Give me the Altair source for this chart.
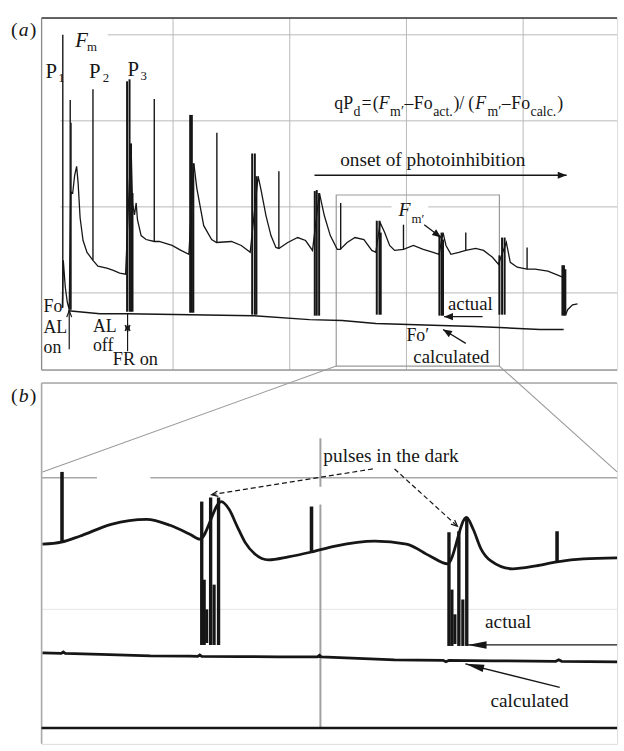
import math
import altair as alt
import pandas as pd

SERIF = "Liberation Serif"
INK = "#161616"
GRID = "#b8b8b8"

# ---------------- panel (a): digitised chlorophyll-fluorescence trace ----------------
# time (s, arbitrary origin) and fluorescence (relative units)
A_TRACE_T = [21, 22, 24, 26, 28, 29.5, 31.5, 33.5, 35.5, 37, 39, 42, 46, 52, 57, 66, 72, 79, 85,
             90.5, 92, 94, 95.7, 97, 100.7, 105.7, 114, 119, 132, 141, 149,
             154, 157, 164, 172, 177, 192, 202, 211,
             219, 222, 227, 232, 237, 240, 249, 259, 267, 274,
             281, 286, 292, 299, 302, 309, 317, 326, 334, 338,
             342.5, 347, 352, 357, 366, 376, 386, 396, 402,
             406, 409, 414, 422, 429, 439, 447, 456, 462,
             470, 474, 481, 491, 499, 512, 522, 527,
             530, 532, 537, 542]
A_TRACE_F = [63, 111, 84, 69, 61, 180, 179, 197, 206, 189, 154, 131, 119, 111, 105, 103, 101, 98, 97,
             229, 169, 157, 169, 152, 136, 132, 130, 130, 126, 121, 117,
             209, 184, 146, 132, 129, 130, 126, 119,
             196, 182, 156, 136, 124, 123, 129, 134, 131, 121,
             179, 156, 136, 122, 122, 129, 134, 132, 121, 119,
             149, 139, 126, 121, 122, 126, 122, 119, 117,
             139, 126, 117, 119, 121, 123, 121, 114, 107,
             129, 109, 104, 102, 102, 100, 96, 94,
             56, 61, 66, 67]

# saturating pulses in the light (single spikes)
A_SPIKE_T = [21.5, 29, 29.8, 52, 114, 177.3, 240, 302.5, 366, 429, 491]
A_SPIKE_BASE = [63, 61, 61, 111, 130, 129, 123, 122, 122, 121, 102]
A_SPIKE_TOP = [339, 273, 250, 284, 274, 240, 201, 169, 147, 139, 124]

# pulses in the dark (bursts)
A_BURST_T = [86.5, 89, 90.5, 92, 150.3, 152, 153.5, 213, 215.7, 217.3, 276.3, 278.3, 280.7,
             339, 341.7, 343, 402.3, 404.5, 406, 463, 465.7, 468.3, 526.7, 528.3, 529.7]
A_BURST_LOW = [59, 59, 59, 59, 58, 58, 58, 56, 56, 56, 55, 55, 55,
               56, 56, 56, 55, 55, 55, 56, 56, 56, 55, 55, 55]
A_BURST_TOP = [292, 294, 229, 179, 258, 258, 209, 219, 219, 196, 181, 182, 179,
               151, 151, 139, 136, 139, 132, 116, 134, 134, 106, 106, 102]

# calculated Fo' baseline
A_FO_T = [27, 59, 86, 151, 214, 271, 304, 338, 371, 404, 438, 463, 504, 528]
A_FO_F = [60, 57, 57, 56, 55, 51, 50, 47, 46, 45, 44, 43, 41, 41]

A_HGRID_F = [339, 252, 165, 165, 78]
A_HGRID_T0 = [67, 19, 19, 391, 19]
A_HGRID_T1 = [582, 582, 354, 582, 582]
A_VGRID_T = [133, 251, 369, 487]

A_BOX = dict(t0=298, t1=463, f0=4, f1=177)

# texts (a): text, x, y(baseline), size
A_TEXT = [("(", -31, 338, 20), (")", -12, 338, 20),
          ("P", 4, 295, 21), ("1", 17, 291, 13),
          ("P", 48, 295, 21), ("2", 62, 291, 13),
          ("P", 87, 297, 21), ("3", 100, 293, 13),
          ("m", 46, 323, 13),
          ("Fo", 2, 59, 18), ("AL", 2, 37, 18), ("on", 2, 17, 18),
          ("AL", 52, 38, 18), ("off", 52, 19, 18), ("FR on", 72, 5, 18.5),
          ("qP", 296, 264, 18), ("d", 315.5, 257, 14), ("=", 323.5, 264, 18), ("(", 335, 264, 18),
          ("m\u2032", 352.5, 257, 14), ("\u2013", 367, 264, 18), ("Fo", 376.5, 264, 18),
          ("act.", 396, 257, 14), (")/", 416.5, 264, 18), ("(", 431.5, 264, 18),
          ("m\u2032", 451, 257, 14), ("\u2013", 465.5, 264, 18), ("Fo", 475, 264, 18),
          ("calc.", 494.5, 257, 14), (")", 521.5, 264, 18),
          ("onset of photoinhibition", 302, 206, 19.5),
          ("m\u2032", 374, 149, 13),
          ("actual", 411, 61, 19), ("Fo\u2032", 369, 29, 18), ("calculated", 376, 7, 19)]
A_TEXT_IT = [("a", -23, 338, 20), ("F", 34, 327, 21), ("F", 341, 264, 18),
             ("F", 438.5, 264, 18), ("F", 361, 156, 20)]

# arrows (a)
A_ARROW = dict(x1=[276, 387, 446, 429], y1=[197, 147, 54, 27],
               x2=[531, 404, 407, 406], y2=[197, 134, 54, 41])
A_OPEN_SHAFT = dict(x1=[28, 87], y1=[21, 19], x2=[28, 87], y2=[60, 57])
A_OPEN_HEAD = dict(x=[28, 87, 87], y=[60, 39, 46], angle=[0, 180, 0])

# ---------------- panel (b): zoom of the boxed region ----------------
B_TRACE_X = [1, 20, 38.6, 70.4, 106.2, 130, 150, 160,
             181.8, 189.8, 197.8, 205.7, 215.7, 229.6, 249.5, 273, 297, 337, 369, 392.7, 410.6,
             429.7, 436.5, 444.5, 454.4, 476.3, 500.2, 521.3, 548, 582]
B_TRACE_Y = [206, 208, 214, 226, 231, 225, 216, 211,
             249, 241, 224, 208, 196, 190, 193, 198, 204, 209, 206, 194, 186,
             233, 221, 201, 189, 181, 184, 188, 191, 192]
B_BURST_X = [162, 171, 179, 412, 422, 430]
B_BURST_LOW = [104, 104, 104, 103, 103, 103]
B_BURST_TOP = [249, 253, 253, 218, 219, 233]
B_FOOT_X = [164.5, 167, 174.5, 415, 418, 426]
B_FOOT_LOW = [104, 106, 104, 103, 105, 103]
B_FOOT_TOP = [170, 140, 165, 160, 135, 150]
B_SPIKE_X = [20.7, 273, 521.3]
B_SPIKE_BASE = [208, 198, 188]
B_SPIKE_TOP = [279, 244, 219]
B_FO_X = [1, 20, 22, 24, 60, 110, 150, 158, 160, 162, 200, 240, 279, 281, 283,
          320, 357, 406, 409, 412, 456, 520, 523, 526, 582]
B_FO_Y = [96, 95.5, 97, 95.5, 94.5, 93, 92.7, 92.5, 94, 92.5, 92.2, 92, 92, 93.5, 92,
          90.5, 89, 88.5, 87, 88.5, 88, 87.5, 89, 87.5, 87]

B_HGRID = dict(y=[273, 273], x0=[0, 110], x1=[56, 582])
B_FAINT = dict(y=[140], x0=[0], x1=[582])
B_VGRID = dict(x=[282, 282], y0=[264, 20], y1=[313, 246])
B_CONNECT = dict(x1=[298, 463], y1=[386, 386], x2=[1, 582], y2=[279, 279])

B_TEXT = [("(", -31, 350, 20), (")", -12, 350, 20),
          ("pulses in the dark", 285, 289, 19.5),
          ("actual", 448.5, 121, 19.5), ("calculated", 454, 41, 19.5)]
B_TEXT_IT = [("b", -23, 350, 20)]

B_DASH_ARROW = dict(x1=[335, 357], y1=[282, 282], x2=[172, 420.6], y2=[256, 224])
B_ARROW = dict(x1=[582, 524], y1=[104, 61], x2=[431, 428.6], y2=[104, 85])

# ---------------- helpers ----------------
W = 582
HA, HB = 356, 365
SXA = alt.Scale(domain=[0, W], nice=False, zero=False)
SYA = alt.Scale(domain=[0, HA], nice=False, zero=False)
SXB = alt.Scale(domain=[0, W], nice=False, zero=False)
SYB = alt.Scale(domain=[4, 369], nice=False, zero=False)


def enc(sx, sy, xf="x", yf="y", x2f=None, y2f=None):
    e = dict(x=alt.X(f"{xf}:Q", scale=sx, axis=None),
             y=alt.Y(f"{yf}:Q", scale=sy, axis=None))
    if x2f:
        e["x2"] = alt.X2(f"{x2f}:Q")
    if y2f:
        e["y2"] = alt.Y2(f"{y2f}:Q")
    return e


def segs(sx, sy, x1, y1, x2, y2, **mk):
    df = pd.DataFrame(dict(x=x1, y=y1, x2=x2, y2=y2))
    return alt.Chart(df).mark_rule(**mk).encode(**enc(sx, sy, "x", "y", "x2", "y2"))


def line(sx, sy, xs, ys, **mk):
    df = pd.DataFrame(dict(x=xs, y=ys, o=list(range(len(xs)))))
    return alt.Chart(df).mark_line(**mk).encode(order="o:Q", **enc(sx, sy))


def texts(sx, sy, rows, italic=False):
    df = pd.DataFrame(rows, columns=["text", "x", "y", "size"])
    kw = dict(align="left", baseline="alphabetic", font=SERIF, color=INK)
    if italic:
        kw["fontStyle"] = "italic"
    return alt.Chart(df).mark_text(**kw).encode(
        text="text:N", size=alt.Size("size:Q", scale=None), **enc(sx, sy))


def angle_of(x1, y1, x2, y2):
    return math.degrees(math.atan2(x2 - x1, y2 - y1)) % 360


def heads(sx, sy, xs, ys, angles, shape, size, filled, sw=1.2):
    df = pd.DataFrame(dict(x=xs, y=ys, angle=angles))
    mk = dict(shape=shape, size=size, filled=filled, color=INK, opacity=1)
    if not filled:
        mk["strokeWidth"] = sw
    return alt.Chart(df).mark_point(**mk).encode(
        angle=alt.Angle("angle:Q", scale=None), **enc(sx, sy))


def arrows(sx, sy, a, shape, size, filled, dash=None, sw=1.3):
    mk = dict(color=INK, strokeWidth=sw)
    if dash:
        mk["strokeDash"] = dash
    shaft = segs(sx, sy, a["x1"], a["y1"], a["x2"], a["y2"], **mk)
    ang = [angle_of(*v) for v in zip(a["x1"], a["y1"], a["x2"], a["y2"])]
    return [shaft, heads(sx, sy, a["x2"], a["y2"], ang, shape, size, filled)]


TRI = "M0,0 L-0.8,2 L0.8,2 Z"
TRI_LONG = "M0,0 L-0.4,2 L0.4,2 Z"
CHEV = "M-0.5,1.3 L0,0 L0.5,1.3"
CHEV_B = "M-0.7,1.6 L0,0 L0.7,1.6"

# ---------------- panel (a) ----------------
la = []
la.append(segs(SXA, SYA, A_HGRID_T0, A_HGRID_F, A_HGRID_T1, A_HGRID_F, color=GRID, strokeWidth=1))
la.append(segs(SXA, SYA, A_VGRID_T, [0] * 4, A_VGRID_T, [HA] * 4, color=GRID, strokeWidth=1))
la.append(segs(SXA, SYA, [0], [HA], [W], [HA], color="#333333", strokeWidth=1.6))
la.append(segs(SXA, SYA, [0], [0], [0], [HA], color="#8a8a8a", strokeWidth=1.2))
la.append(segs(SXA, SYA, [0], [0], [W], [0], color="#9a9a9a", strokeWidth=1.6))
la.append(alt.Chart(pd.DataFrame([A_BOX])).mark_rect(fillOpacity=0, stroke="#9a9a9a", strokeWidth=1.2)
          .encode(**enc(SXA, SYA, "t0", "f0", "t1", "f1")))
la.append(line(SXA, SYA, A_FO_T, A_FO_F, color=INK, strokeWidth=1.5))
la.append(segs(SXA, SYA, A_BURST_T, A_BURST_LOW, A_BURST_T, A_BURST_TOP, color=INK, strokeWidth=2))
la.append(segs(SXA, SYA, A_SPIKE_T, A_SPIKE_BASE, A_SPIKE_T, A_SPIKE_TOP, color=INK, strokeWidth=1.4))
la.append(line(SXA, SYA, A_TRACE_T, A_TRACE_F, color=INK, strokeWidth=1.3))
la.append(texts(SXA, SYA, A_TEXT))
la.append(texts(SXA, SYA, A_TEXT_IT, italic=True))
la += arrows(SXA, SYA, A_ARROW, TRI, 81, True, sw=1.3)
la.append(segs(SXA, SYA, A_OPEN_SHAFT["x1"], A_OPEN_SHAFT["y1"], A_OPEN_SHAFT["x2"],
               A_OPEN_SHAFT["y2"], color=INK, strokeWidth=1.2))
la.append(heads(SXA, SYA, A_OPEN_HEAD["x"], A_OPEN_HEAD["y"], A_OPEN_HEAD["angle"], CHEV, 100, False))
panel_a = alt.layer(*la).properties(width=W, height=HA)

# ---------------- panel (b) ----------------
lb = []
lb.append(segs(SXB, SYB, B_FAINT["x0"], B_FAINT["y"], B_FAINT["x1"], B_FAINT["y"],
               color="#e6e6e6", strokeWidth=1))
lb.append(segs(SXB, SYB, B_HGRID["x0"], B_HGRID["y"], B_HGRID["x1"], B_HGRID["y"],
               color="#a8a8a8", strokeWidth=1.5))
lb.append(segs(SXB, SYB, B_VGRID["x"], B_VGRID["y0"], B_VGRID["x"], B_VGRID["y1"],
               color="#a0a0a0", strokeWidth=2))
lb.append(segs(SXB, SYB, [0], [369], [W], [369], color="#aaaaaa", strokeWidth=1.5))
lb.append(segs(SXB, SYB, [0], [4], [0], [369], color="#aaaaaa", strokeWidth=1.5))
lb.append(segs(SXB, SYB, [0], [20], [W], [20], color=INK, strokeWidth=2.4))
lb.append(segs(SXB, SYB, B_CONNECT["x1"], B_CONNECT["y1"], B_CONNECT["x2"], B_CONNECT["y2"],
               color="#9a9a9a", strokeWidth=1.1))
lb.append(line(SXB, SYB, B_FO_X, B_FO_Y, color=INK, strokeWidth=2.8))
lb.append(segs(SXB, SYB, B_BURST_X, B_BURST_LOW, B_BURST_X, B_BURST_TOP, color=INK, strokeWidth=3.4))
lb.append(segs(SXB, SYB, B_FOOT_X, B_FOOT_LOW, B_FOOT_X, B_FOOT_TOP, color=INK, strokeWidth=3.2))
lb.append(segs(SXB, SYB, B_SPIKE_X, B_SPIKE_BASE, B_SPIKE_X, B_SPIKE_TOP, color=INK, strokeWidth=3.6))
lb.append(line(SXB, SYB, B_TRACE_X, B_TRACE_Y, color=INK, strokeWidth=2.8, interpolate="monotone"))
lb.append(texts(SXB, SYB, B_TEXT))
lb.append(texts(SXB, SYB, B_TEXT_IT, italic=True))
lb += arrows(SXB, SYB, B_DASH_ARROW, CHEV_B, 64, False, dash=[5, 3], sw=1.2)
lb += arrows(SXB, SYB, B_ARROW, TRI_LONG, 361, True, sw=1.3)
panel_b = alt.layer(*lb).properties(width=W, height=HB)

chart = (alt.vconcat(panel_a, panel_b, spacing=13, bounds="flush")
         .resolve_scale(x="independent", y="independent")
         .properties(padding={"left": 10, "top": 12, "right": 0, "bottom": 0})
         .configure_view(stroke=None)
         .configure(background="white"))

chart.save("out.html", embed_options={"renderer": "svg", "actions": False})
